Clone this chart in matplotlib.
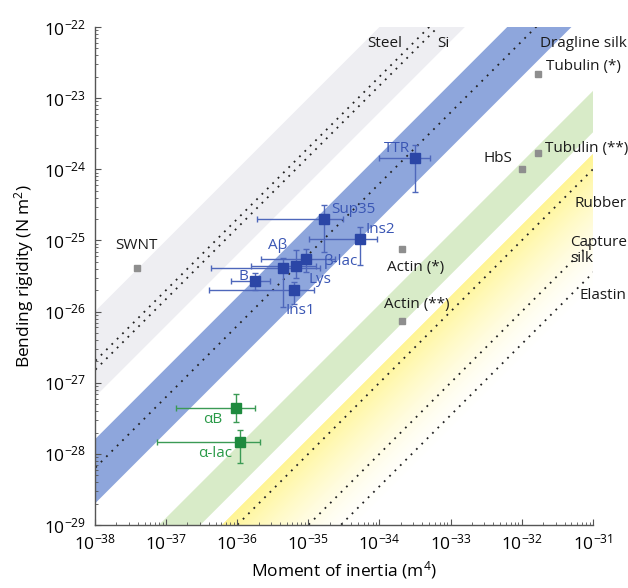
import numpy as np
import matplotlib
matplotlib.use("Agg")
import matplotlib.pyplot as plt
from matplotlib.ticker import LogLocator, NullFormatter

plt.rcParams['font.family'] = ['Open Sans', 'DejaVu Sans']
plt.rcParams['mathtext.fontset'] = 'custom'
plt.rcParams['mathtext.rm'] = 'Open Sans'
plt.rcParams['mathtext.it'] = 'Open Sans:italic'
plt.rcParams['mathtext.bf'] = 'Open Sans:bold'

# =============================================================================
# DATA
# =============================================================================

# amyloid fibrils (blue)
amy_names = ["TTR", "Sup35", "Ins2", "β-lac", "Lys", "Aβ", "B", "Ins1"]
amy_I = [3.2e-34, 1.66e-35, 5.4e-35, 9.3e-36, 6.7e-36, 4.4e-36, 1.8e-36, 6.3e-36]
amy_I_lo = [1.0e-34, 1.9e-36, 1.02e-35, 2.2e-36, 1.55e-36, 4.3e-37, 8.1e-37, 4.0e-37]
amy_I_hi = [5.1e-34, 3.1e-35, 9.3e-35, 2.4e-35, 1.3e-35, 1.45e-35, 2.9e-36, 1.2e-35]
amy_EI = [1.45e-24, 2.0e-25, 1.05e-25, 5.5e-26, 4.4e-26, 4.1e-26, 2.7e-26, 2.0e-26]
amy_EI_lo = [4.8e-25, 6.9e-26, 4.5e-26, 3.6e-26, 3.0e-26, 1.15e-26, 2.0e-26, 1.3e-26]
amy_EI_hi = [2.2e-24, 3.2e-25, 1.55e-25, 7.6e-26, 7.3e-26, 5.6e-26, 3.5e-26, 2.6e-26]

# amorphous aggregates (green)
amor_names = ["αB", "α-lac"]
amor_I = [9.6e-37, 1.1e-36]
amor_I_lo = [1.4e-37, 7.4e-38]
amor_I_hi = [1.8e-36, 2.1e-36]
amor_EI = [4.4e-28, 1.45e-28]
amor_EI_lo = [2.8e-28, 7.4e-29]
amor_EI_hi = [6.9e-28, 2.2e-28]

# other filaments (grey squares)
ref_names = ["SWNT", "Tubulin (*)", "Tubulin (**)", "HbS", "Actin (*)", "Actin (**)"]
ref_I = [3.9e-38, 1.7e-32, 1.7e-32, 1.0e-32, 2.1e-34, 2.1e-34]
ref_EI = [4.1e-26, 2.2e-23, 1.7e-24, 1.0e-24, 7.6e-26, 7.4e-27]

# Young's modulus bands (Pa): EI = E * I
E_grey = (6.3e10, 1.0e12)
E_blue = (2.0e9, 1.6e10)
E_green = (3.3e7, 1.26e8)
E_yellow_top = 1.6e7
E_yellow_fade = 2.0e5

# dotted material lines (Pa)
E_steel = 2.0e11
E_si = 1.5e11
E_dragline = 6.3e9
E_rubber = 1.0e7
E_capture = 1.0e6
E_elastin = 3.5e5

# axis decades
x_ticks = [1e-38, 1e-37, 1e-36, 1e-35, 1e-34, 1e-33, 1e-32, 1e-31]
y_ticks = [1e-29, 1e-28, 1e-27, 1e-26, 1e-25, 1e-24, 1e-23, 1e-22]

# =============================================================================
# PLOT
# =============================================================================

BLUE = "#2b46a6"
BLUE_TXT = "#3a56b4"
GREEN = "#1e8a3e"
GREEN_TXT = "#2a9a48"
GREY = "#8e8e8e"

fig = plt.figure(figsize=(6.28, 5.88), dpi=100)
ax = fig.add_axes([0.151, 0.107, 0.793, 0.847])
ax.set_xscale('log')
ax.set_yscale('log')

xx = np.array([1e-40, 1e-29])

ax.fill_between(xx, E_grey[0] * xx, E_grey[1] * xx, color="#eeeef2", lw=0, zorder=0)
ax.fill_between(xx, E_blue[0] * xx, E_blue[1] * xx, color="#8ea6dc", lw=0, zorder=0)
ax.fill_between(xx, E_green[0] * xx, E_green[1] * xx, color="#d8ebc8", lw=0, zorder=0)

# yellow band fading out towards lower E; paint wide pale regions first,
# then narrower, stronger ones on top so no seams show
n_strips = 60
edges = np.logspace(np.log10(E_yellow_top), np.log10(E_yellow_fade), n_strips + 1)
yellow = np.array([1.0, 0.96, 0.58])
for k in range(n_strips - 1, -1, -1):
    t = (k + 0.5) / n_strips
    a = (1 - t) ** 1.5
    col = 1 - a * (1 - yellow)
    ax.fill_between(xx, edges[k + 1] * xx, E_yellow_top * xx, color=col, lw=0, zorder=0)

for E in [E_steel, E_si, E_dragline, E_rubber, E_capture, E_elastin]:
    ax.plot(xx, E * xx, color="#222222", lw=1.3, ls=(0, (1, 3.2)), zorder=1)

ax.errorbar(amy_I, amy_EI,
            xerr=[np.array(amy_I) - np.array(amy_I_lo), np.array(amy_I_hi) - np.array(amy_I)],
            yerr=[np.array(amy_EI) - np.array(amy_EI_lo), np.array(amy_EI_hi) - np.array(amy_EI)],
            fmt='s', color=BLUE, ecolor="#4e67bb", elinewidth=1.0, capsize=2.5,
            markersize=7.5, zorder=3)
ax.errorbar(amor_I, amor_EI,
            xerr=[np.array(amor_I) - np.array(amor_I_lo), np.array(amor_I_hi) - np.array(amor_I)],
            yerr=[np.array(amor_EI) - np.array(amor_EI_lo), np.array(amor_EI_hi) - np.array(amor_EI)],
            fmt='s', color=GREEN, ecolor="#3b9a55", elinewidth=1.0, capsize=2.5,
            markersize=7.5, zorder=3)
ax.plot(ref_I, ref_EI, 's', color=GREY, markersize=5, zorder=3)

# point labels: offset in points, alignment
amy_offsets = [(-4, 7, 'right'), (5, 7, 'left'), (4, 7, 'left'), (13, -2, 'left'),
               (9, -9.5, 'left'), (-4, 16.5, 'center'), (-8.5, 3.5, 'center'),
               (-6, -14.5, 'left')]
for name, x, y, (dx, dy, ha) in zip(amy_names, amy_I, amy_EI, amy_offsets):
    ax.annotate(name, (x, y), xytext=(dx, dy), textcoords='offset points',
                ha=ha, va='center', fontsize=11, color=BLUE_TXT, zorder=4)

amor_offsets = [(-16.5, -8.5), (-18, -8)]
for name, x, y, (dx, dy) in zip(amor_names, amor_I, amor_EI, amor_offsets):
    ax.annotate(name, (x, y), xytext=(dx, dy), textcoords='offset points',
                ha='center', va='center', fontsize=11, color=GREEN_TXT, zorder=4)

ref_offsets = [(0, 16, 'center'), (6, 5.5, 'left'), (5, 3, 'left'), (-7, 7.5, 'right'),
               (-11, -13.5, 'left'), (-13.5, 11.5, 'left')]
for name, x, y, (dx, dy, ha) in zip(ref_names, ref_I, ref_EI, ref_offsets):
    ax.annotate(name, (x, y), xytext=(dx, dy), textcoords='offset points',
                ha=ha, va='center', fontsize=11, color="#1a1a1a", zorder=4)

# band labels
band_txt = dict(fontsize=11, color="#1a1a1a", va='center', zorder=4)
ax.text(1.2e-34, 5.9e-23, "Steel", ha='center', **band_txt)
ax.text(6.5e-34, 5.9e-23, "Si", ha='left', **band_txt)
ax.text(1.8e-32, 5.9e-23, "Dragline silk", ha='left', **band_txt)
ax.text(3.0e-31, 3.3e-25, "Rubber", ha='right', **band_txt)
ax.text(4.8e-32, 7.3e-26, "Capture\nsilk", ha='left', linespacing=1.1, **band_txt)
ax.text(6.6e-32, 1.7e-26, "Elastin", ha='left', **band_txt)

ax.set_xticks(x_ticks)
ax.set_yticks(y_ticks)
ax.set_xlim(x_ticks[0], x_ticks[-1])
ax.set_ylim(y_ticks[0], y_ticks[-1])
for axis in (ax.xaxis, ax.yaxis):
    axis.set_minor_locator(LogLocator(base=10, subs=np.arange(2, 10), numticks=100))
    axis.set_minor_formatter(NullFormatter())

ax.spines['top'].set_visible(False)
ax.spines['right'].set_visible(False)
for s in ('left', 'bottom'):
    ax.spines[s].set_color("#555555")
    ax.spines[s].set_linewidth(1.0)
    ax.spines[s].set_zorder(5)
ax.tick_params(which='major', direction='in', length=4, width=0.8, color="#555555",
               labelsize=12.5, pad=6)
ax.tick_params(which='minor', direction='in', length=2, width=0.6, color="#555555")

ax.set_xlabel("Moment of inertia (m$^4$)", fontsize=12.5, labelpad=4)
ax.set_ylabel("Bending rigidity (N m$^2$)", fontsize=12.5, labelpad=6)

fig.savefig("out.png", dpi=100)
